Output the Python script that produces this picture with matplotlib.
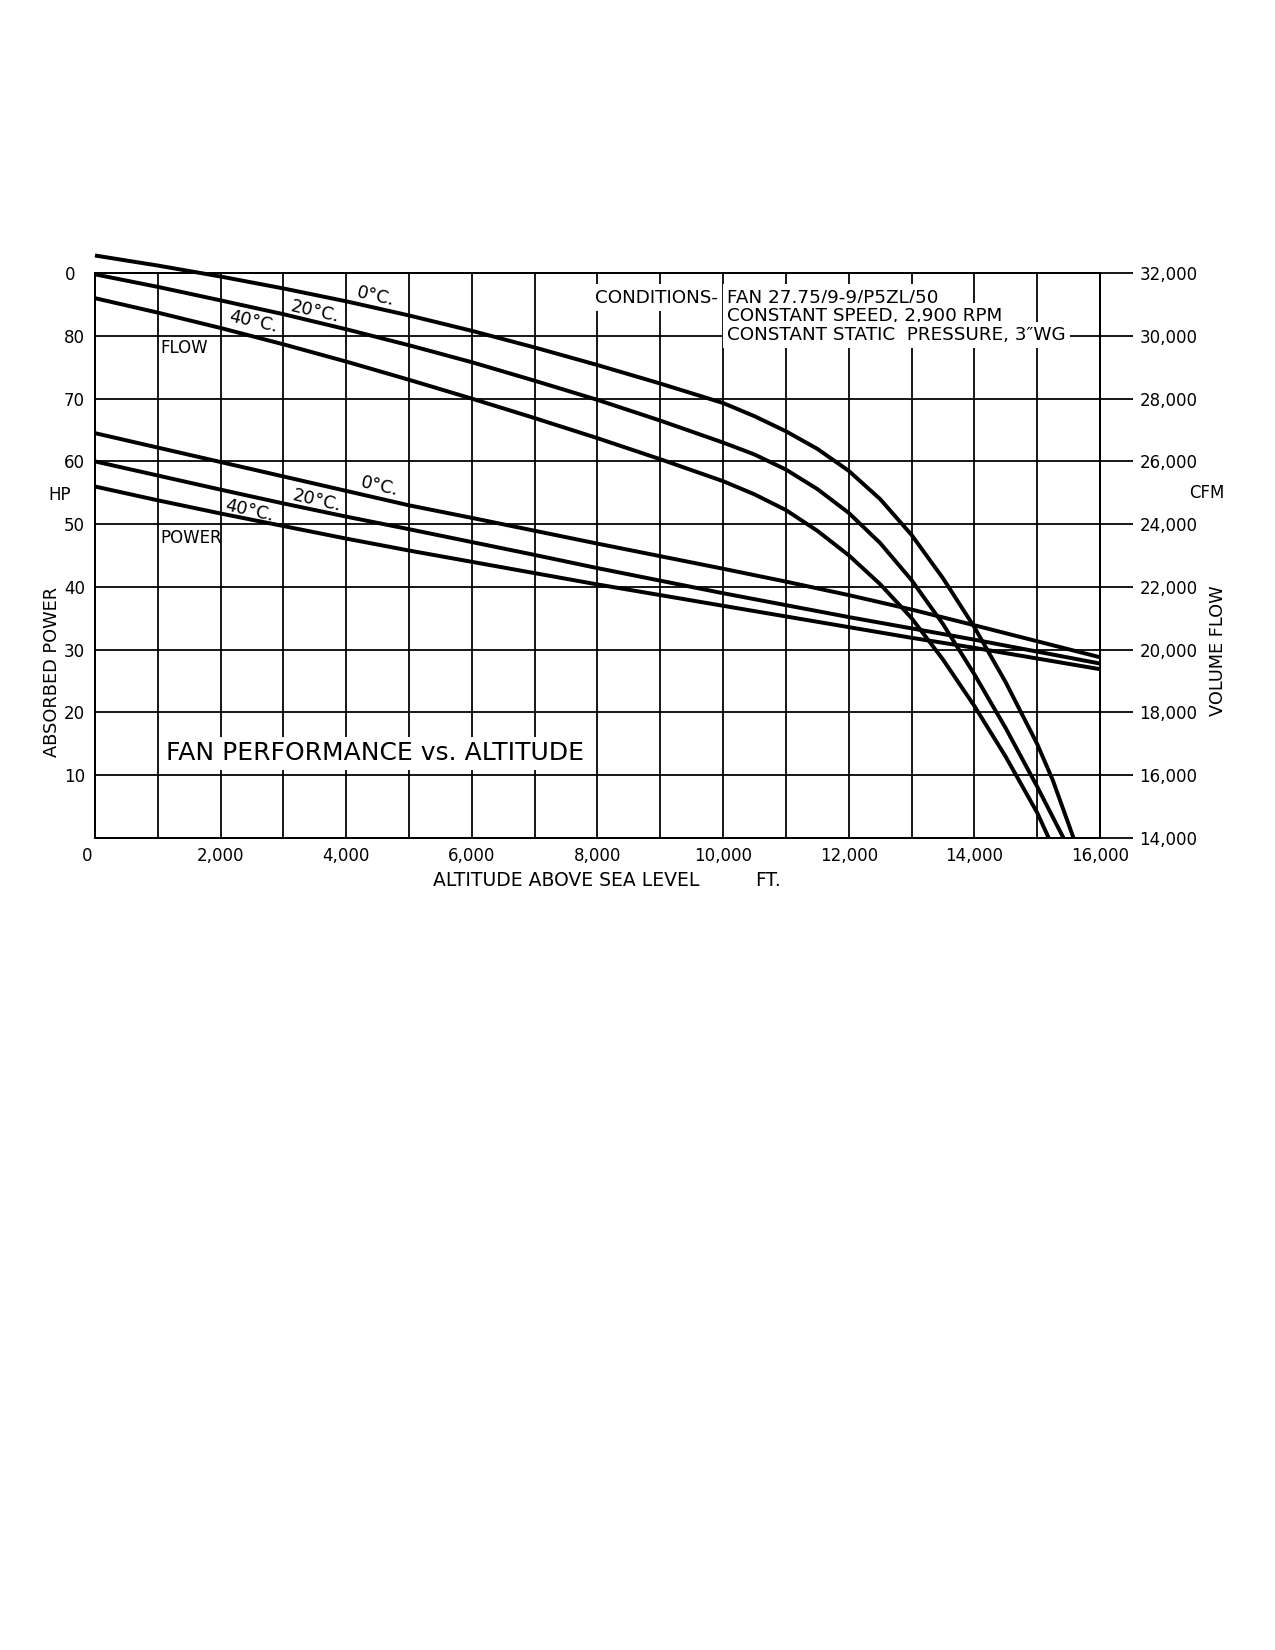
import matplotlib
matplotlib.use("Agg")
import matplotlib.pyplot as plt
import matplotlib.transforms as mtransforms

plt.rcParams["font.family"] = ["DejaVu Sans"]

# ---- data ---------------------------------------------------------------------

# absorbed power (HP) vs altitude (ft)
POWER_ALT = [0, 1000, 2000, 3000, 4000, 5000, 6000, 7000, 8000,
             9000, 10000, 11000, 12000, 13000, 14000, 15000, 16000]
POWER_HP_0C = [64.5, 62.2, 59.9, 57.6, 55.3, 53.0, 51.0, 48.95, 46.9,
               44.9, 42.9, 40.85, 38.7, 36.4, 33.9, 31.35, 28.8]
POWER_HP_20C = [60.0, 57.75, 55.5, 53.3, 51.2, 49.2, 47.15, 45.1, 43.0,
                41.0, 39.0, 37.1, 35.2, 33.4, 31.6, 29.7, 27.8]
POWER_HP_40C = [56.0, 53.8, 51.7, 49.7, 47.7, 45.8, 44.0, 42.2, 40.4,
                38.7, 37.0, 35.3, 33.6, 31.9, 30.3, 28.6, 26.9]

# volume flow (CFM) vs altitude (ft)
FLOW_ALT_0C = [0, 1000, 2000, 3000, 4000, 5000, 6000, 7000, 8000, 9000, 10000,
               10500, 11000, 11500, 12000, 12500, 13000, 13500, 14000, 14500,
               15000, 15250, 15580]
FLOW_CFM_0C = [32560, 32240, 31890, 31510, 31100, 30650, 30160, 29630, 29070,
               28480, 27860, 27440, 26960, 26400, 25700, 24800, 23660, 22280,
               20720, 18960, 17000, 15840, 14000]
FLOW_ALT_20C = [0, 1000, 2000, 3000, 4000, 5000, 6000, 7000, 8000, 9000, 10000,
                10500, 11000, 11500, 12000, 12500, 13000, 13500, 14000, 14500,
                15000, 15420]
FLOW_CFM_20C = [31960, 31560, 31130, 30690, 30210, 29700, 29160, 28570, 27960,
                27300, 26600, 26220, 25740, 25120, 24360, 23400, 22220, 20820,
                19220, 17500, 15640, 14000]
FLOW_ALT_40C = [0, 1000, 2000, 3000, 4000, 5000, 6000, 7000, 8000, 9000, 10000,
                10500, 11000, 11500, 12000, 12500, 13000, 13500, 14000, 14500,
                15000, 15185]
FLOW_CFM_40C = [31200, 30740, 30250, 29730, 29180, 28600, 28000, 27380, 26740,
                26070, 25370, 24950, 24450, 23790, 23010, 22090, 21010, 19690,
                18210, 16590, 14810, 14000]

HP_TICKS = [0, 10, 20, 30, 40, 50, 60, 70, 80, 90]
HP_TICK_LABELS = ["", "10", "20", "30", "40", "50", "60", "70", "80", "0"]
CFM_TICKS = [14000, 16000, 18000, 20000, 22000, 24000, 26000, 28000, 30000, 32000]
ALT_TICKS = list(range(0, 16001, 1000))

CONDITIONS = ["CONDITIONS-", "FAN 27.75/9-9/P5ZL/50",
              "CONSTANT SPEED, 2,900 RPM",
              "CONSTANT STATIC  PRESSURE, 3\u2033WG"]

# ---- figure -------------------------------------------------------------------

fig = plt.figure(figsize=(8.5, 11), dpi=150)
ax = fig.add_axes([0.0745, 0.4921, 0.7882, 0.3424])
ax2 = ax.twinx()

GRID_LW = 0.85
CURVE_LW = 1.9

ax.set_xlim(0, 16000)
ax.set_ylim(0, 90)
ax.set_xticks(ALT_TICKS)
ax.set_xticklabels([f"{v:,}" if v % 2000 == 0 else "" for v in ALT_TICKS])
ax.set_yticks(HP_TICKS)
ax.set_yticklabels(HP_TICK_LABELS)
ax.grid(True, color="black", lw=GRID_LW)
ax.set_axisbelow(True)
ax.tick_params(axis="both", length=0, labelsize=8)
ax.tick_params(axis="y", pad=4.8)
ax.tick_params(axis="x", pad=4.5)

ax2.set_ylim(14000, 32000)
ax2.set_yticks(CFM_TICKS)
ax2.set_yticklabels([f"{v:,}" for v in CFM_TICKS])
ax2.tick_params(axis="y", direction="out", length=16, width=GRID_LW,
                pad=3, labelsize=8)

for a in (ax, ax2):
    for sp in a.spines.values():
        sp.set_linewidth(GRID_LW)
        sp.set_color("black")

# nudge the odd corner labels the way the drawing has them
shift_left = mtransforms.ScaledTranslation(-8 / 150, 0, fig.dpi_scale_trans)
xlabels = ax.get_xticklabels()
xlabels[0].set_transform(xlabels[0].get_transform() + shift_left)
ylabels = ax.get_yticklabels()
ylabels[-1].set_transform(ylabels[-1].get_transform()
                          + mtransforms.ScaledTranslation(-10 / 150, 0, fig.dpi_scale_trans))

line_kw = dict(color="black", lw=CURVE_LW, solid_capstyle="butt",
               solid_joinstyle="round")

# power curves
for hp in (POWER_HP_0C, POWER_HP_20C, POWER_HP_40C):
    ax.plot(POWER_ALT, hp, **line_kw)

# flow curves (0 C starts above the top frame)
ax2.plot(FLOW_ALT_0C, FLOW_CFM_0C, clip_on=False, **line_kw)
ax2.plot(FLOW_ALT_20C, FLOW_CFM_20C, **line_kw)
ax2.plot(FLOW_ALT_40C, FLOW_CFM_40C, **line_kw)

# curve labels
lbl_kw = dict(fontsize=8.5, rotation=-13, rotation_mode="anchor",
              ha="center", va="center")
ax.text(4475, 86.3, "0\u00b0C.", **lbl_kw)
ax.text(3503, 83.8, "20\u00b0C.", **lbl_kw)
ax.text(2516, 82.2, "40\u00b0C.", **lbl_kw)
ax.text(4538, 56.05, "0\u00b0C.", **lbl_kw)
ax.text(3535, 53.7, "20\u00b0C.", **lbl_kw)
ax.text(2452, 52.2, "40\u00b0C.", **lbl_kw)

ax.text(1040, 78.0, "FLOW", fontsize=8, ha="left", va="center")
ax.text(1040, 47.8, "POWER", fontsize=8, ha="left", va="center")

box = dict(facecolor="white", edgecolor="none", pad=2.0)
ax.text(1130, 13.5, "FAN PERFORMANCE vs. ALTITUDE", fontsize=12,
        ha="left", va="center", bbox=box)
ax.text(7960, 86.1, CONDITIONS[0], fontsize=8.8, ha="left", va="center", bbox=box)
ax.text(10070, 86.1, CONDITIONS[1], fontsize=8.8, ha="left", va="center", bbox=box)
ax.text(10070, 83.1, CONDITIONS[2], fontsize=8.8, ha="left", va="center", bbox=box)
ax.text(10070, 80.1, CONDITIONS[3], fontsize=8.8, ha="left", va="center", bbox=box)

# axis titles
ax.text(0.3363, -0.0743, "ALTITUDE ABOVE SEA LEVEL", transform=ax.transAxes,
        fontsize=9, ha="left", va="center")
ax.text(0.6567, -0.0743, "FT.", transform=ax.transAxes,
        fontsize=9, ha="left", va="center")
ax.text(-0.0428, 0.294, "ABSORBED POWER", transform=ax.transAxes,
        fontsize=8.5, rotation=90, ha="center", va="center")
ax.text(-0.0348, 0.607, "HP", transform=ax.transAxes,
        fontsize=8, ha="center", va="center")
ax.text(1.1174, 0.331, "VOLUME FLOW", transform=ax.transAxes,
        fontsize=8.5, rotation=90, ha="center", va="center")
ax.text(1.106, 0.611, "CFM", transform=ax.transAxes,
        fontsize=8, ha="center", va="center")

fig.savefig("out.png", dpi=150, facecolor="white")
